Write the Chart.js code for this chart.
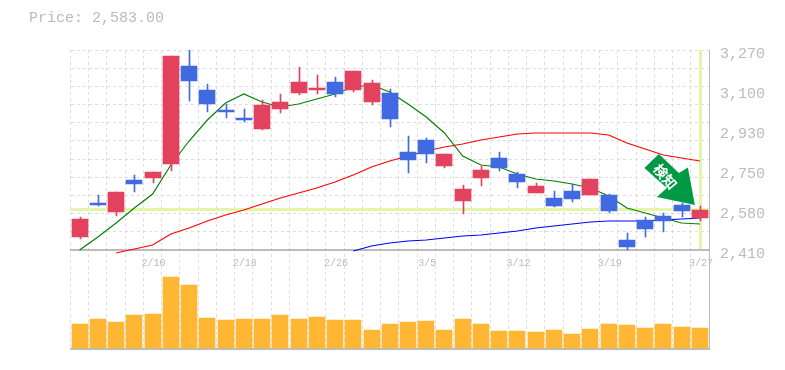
<!DOCTYPE html>
<html><head><meta charset="utf-8">
<style>html,body{margin:0;padding:0;background:#fff}canvas{display:block}</style>
<script src="https://cdn.jsdelivr.net/npm/chart.js@4/dist/chart.umd.min.js"></script>
</head><body>
<canvas id="c" width="785" height="370"></canvas>
<script>
const titleText = 'Price: 2,583.00';
const categories = ['','','','','2/10','','','','','2/18','','','','','2/26','','','','','3/5','','','','','3/12','','','','','3/19','','','','','3/27'];
const opens  = [2465.9,2612.1,2573.4,2711,2719.6,2779.8,3201.2,3098,3012,2977.6,2930.3,3016.3,3085.1,3098,3132.4,3098,3046.4,3085.1,2831.4,2883,2771.2,2620.7,2719.6,2805.6,2736.8,2655.1,2633.6,2663.7,2646.5,2646.5,2453,2539,2556.2,2603.5,2547.6];
const closes = [2543.3,2603.5,2659.4,2693.8,2745.4,3244.2,3136.7,3037.8,3003.4,2969,3033.5,3046.4,3132.4,3106.6,3080.8,3179.7,3128.1,2973.3,2797,2822.8,2822.8,2672.3,2754,2762.6,2702.4,2685.2,2599.2,2629.3,2715.3,2577.7,2422.9,2500.3,2534.7,2577.7,2583];
const highs  = [2551.9,2646.5,2659.4,2732.5,2745.4,3244.2,3270,3123.8,3037.8,3016.3,3055,3080.8,3196.9,3162.5,3153.9,3179.7,3141,3102.3,2900.2,2891.6,2822.8,2689.5,2771.2,2831.4,2745.4,2698.1,2663.7,2693.8,2715.3,2650.8,2483.1,2551.9,2569.1,2612.1,2599.2];
const lows   = [2457.3,2599.2,2556.2,2659.4,2698.1,2749.7,3050.7,3003.4,2977.6,2960.4,2926,2999.1,3076.5,3080.8,3067.9,3089.4,3033.5,2938.9,2741.1,2784.1,2762.6,2564.8,2685.2,2749.7,2676.6,2655.1,2594.9,2616.4,2646.5,2569.1,2410,2465.9,2487.4,2551.9,2534.7];
const volumes = [2400,2900,2600,3300,3400,7100,6300,3000,2800,2900,2900,3300,2900,3100,2800,2800,1800,2400,2600,2700,1800,2900,2400,1700,1700,1600,1800,1400,1900,2400,2300,2000,2400,2100,2000];
const maShort = [2410,2465.9,2526.1,2590.6,2650.8,2775.5,2878.7,2969,3042.1,3080.8,3046.4,3024.9,3037.8,3059.3,3080.8,3110.9,3119.5,3089.4,3037.8,2981.9,2913.1,2814.2,2775.5,2766.9,2736.8,2715.3,2706.7,2693.8,2676.6,2642.2,2590.6,2569.1,2547.6,2526.1,2521.8];
const maMid = [null,null,2397.1,2414.3,2431.5,2478.8,2504.6,2534.7,2560.5,2582,2607.8,2633.6,2655.1,2676.6,2702.4,2732.5,2766.9,2792.7,2814.2,2835.7,2852.9,2865.8,2883,2895.9,2908.8,2913.1,2913.1,2913.1,2913.1,2904.5,2870.1,2844.3,2818.5,2805.6,2792.7];
const maLong = [null,null,null,null,null,null,null,null,null,null,null,null,null,null,null,2405.7,2427.2,2440.1,2448.7,2453,2461.6,2470.2,2474.5,2483.1,2491.7,2504.6,2513.2,2521.8,2530.4,2534.7,2534.7,2534.7,2539,2543.3,2547.6];
const priceTickValues = [3270,3098,2926,2754,2582,2410];
const priceTickLabels = ['3,270','3,100','2,930','2,750','2,580','2,410'];
const gridValues = [3270,3192,3114,3035,2957,2879,2801,2723,2645,2566,2488,2410];
const currentPrice = 2583;
const signText = '検知';

const RED='#e3425f', BLUE='#4169e1', VOL='#ffb733', GRID='#dddddd', AXIS='#bbbbbb', HL='#e4f5a9', SIGN='#009944';
const candleColors = opens.map((o,i)=> closes[i]>=o ? RED : BLUE);

const snapBars = {
  id:'snapBars',
  beforeDatasetsDraw(chart){
    chart.data.datasets.forEach((d,i)=>{
      if(d.type!=='bar') return;
      chart.getDatasetMeta(i).data.forEach(el=>{
        el.x = (Math.round(el.width)%2) ? Math.round(el.x)+0.5 : Math.round(el.x);
        el.y = Math.round(el.y); el.base = Math.round(el.base);
      });
    });
  }
};
const guides = {
  id:'guides',
  beforeDatasetsDraw(chart){
    const {ctx,chartArea:a,scales}=chart, xp=scales.x.getPixelForValue(categories.length-1), yp=scales.y.getPixelForValue(currentPrice), yb=scales.y.getPixelForValue(priceTickValues[5]);
    ctx.save(); ctx.fillStyle=HL;
    ctx.fillRect(a.left,Math.round(yp)-2,a.right-a.left+1,3);
    ctx.fillRect(Math.round(xp)-1,a.top,3,yb-a.top-1);
    ctx.fillStyle=AXIS;
    ctx.fillRect(a.right,a.top,1,a.bottom-a.top+1);
    ctx.fillRect(a.right,Math.round(yb)-1,1,2);
    ctx.restore();
  }
};
const sign = {
  id:'sign',
  afterDatasetsDraw(chart){
    const {ctx,scales}=chart, tx=scales.x.getPixelForValue(categories.length-1)-5, ty=scales.y.getPixelForValue(2603.5);
    const pts=[[-36,-51],[-50.5,-37],[-28,-17],[-38,-8],[0,0],[-7,-37.5],[-16,-32]];
    ctx.save(); ctx.fillStyle=SIGN; ctx.beginPath();
    pts.forEach((p,i)=> i? ctx.lineTo(tx+p[0],ty+p[1]) : ctx.moveTo(tx+p[0],ty+p[1]));
    ctx.closePath(); ctx.fill();
    ctx.translate(tx-29.5,ty-28.5); ctx.rotate(50*Math.PI/180);
    ctx.fillStyle='#fff'; ctx.font='bold 14px "Noto Sans CJK JP"'; ctx.textAlign='center'; ctx.textBaseline='middle';
    ctx.fillText(signText,0,0);
    ctx.restore();
  }
};
new Chart(document.getElementById('c'),{
  data:{labels:categories,datasets:[
    {type:'line',data:maShort,yAxisID:'y',borderColor:'#008000',borderWidth:1.15,pointRadius:0,tension:0,order:5},
    {type:'line',data:maMid,yAxisID:'y',borderColor:'#ff0000',borderWidth:1.15,pointRadius:0,tension:0,order:5},
    {type:'line',data:maLong,yAxisID:'y',borderColor:'#0000ff',borderWidth:1.15,pointRadius:0,tension:0,order:5},
    {type:'bar',data:lows.map((l,i)=>[l,highs[i]]),yAxisID:'y',backgroundColor:candleColors,barThickness:1,grouped:false,order:2},
    {type:'bar',data:opens.map((o,i)=>[o,closes[i]]),yAxisID:'y',backgroundColor:candleColors,barThickness:16,grouped:false,order:1},
    {type:'bar',data:volumes,yAxisID:'yv',backgroundColor:VOL,barThickness:16,grouped:false,order:3}
  ]},
  plugins:[snapBars,guides,sign],
  options:{
    responsive:false,animation:false,
    layout:{padding:{left:29,right:0,top:0,bottom:21}},
    plugins:{legend:{display:false},tooltip:{enabled:false},
      title:{display:true,text:titleText,align:'start',color:AXIS,font:{family:'"Liberation Mono"',size:15,weight:'normal'},padding:{top:9,bottom:23}}},
    scales:{
      x:{type:'category',offset:true,position:{y:2410},
        grid:{display:true,offset:true,color:GRID,drawTicks:false,lineWidth:1},
        border:{display:true,color:AXIS,width:2,dash:[3,3]},
        ticks:{autoSkip:false,maxRotation:0,minRotation:0,padding:7,labelOffset:1,color:AXIS,font:{family:'"Liberation Mono"',size:10}}},
      x2:{type:'category',offset:true,position:'bottom',grid:{display:false},
        border:{display:true,color:AXIS,width:2},ticks:{display:false},afterFit(s){s.height=0;}},
      y:{position:'left',min:1984.3,max:3270,
        afterBuildTicks(s){s.ticks=gridValues.map(v=>({value:v}));},
        grid:{color:GRID,drawTicks:false,lineWidth:1},border:{display:false,dash:[3,3]},
        ticks:{display:false},afterFit(s){s.width=41.5;}},
      y2:{position:'right',min:2001.5,max:3287.2,
        afterBuildTicks(s){s.ticks=priceTickValues.map(v=>({value:v}));},
        grid:{display:false,drawTicks:false},border:{display:false},
        ticks:{autoSkip:false,padding:11,color:AXIS,font:{family:'"Liberation Mono"',size:15},callback:(v,i)=>priceTickLabels[i]},
        afterFit(s){s.width=76;}},
      yv:{display:false,min:-100,max:29800}
    }
  }
});
</script>
</body></html>
